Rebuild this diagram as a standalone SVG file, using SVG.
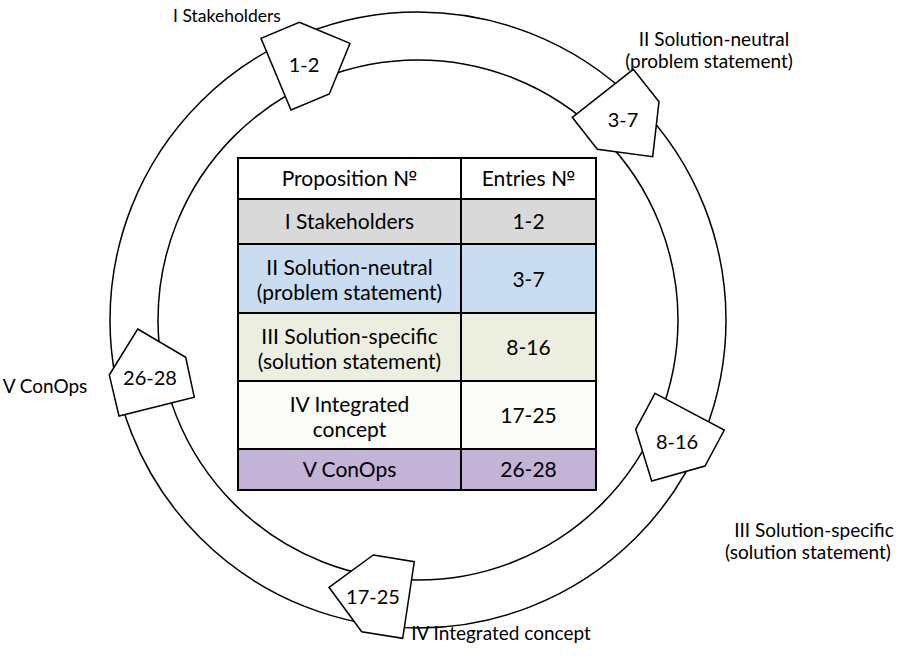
<svg xmlns="http://www.w3.org/2000/svg" width="911" height="658" viewBox="0 0 911 658">
<style>
  text { font-family: Lato, "Open Sans", "Liberation Sans", sans-serif; fill: #000; }
  .lbl { font-size: 19px; text-anchor: middle; }
  .cell { font-size: 21px; text-anchor: middle; }
  .num { font-size: 20px; text-anchor: middle; }
  .ring { fill: none; stroke: #000; stroke-width: 1.5; }
  .pent { fill: #fff; stroke: #000; stroke-width: 1.5; stroke-linejoin: miter; }
  .tb { stroke: #000; stroke-width: 2; }
</style>
<rect width="911" height="658" fill="#fff"/>

<g id="connectors">
  <circle class="ring" cx="418" cy="320" r="308"/>
  <circle class="ring" cx="418" cy="320" r="260"/>
</g>

<g id="node-stakeholders">
  <polygon class="pent" points="299.3,22.3 350,43.3 329.3,94 291,110 261,38.3"/>
  <text class="num" x="304" y="72">1-2</text>
  <text class="lbl" x="227" y="22" style="font-size:17.5px">I Stakeholders</text>
</g>

<g id="node-solution-neutral">
  <polygon class="pent" points="633.3,69.3 659,101.7 652.7,156.7 597.3,149.3 572.3,117.3"/>
  <text class="num" x="623" y="127">3-7</text>
  <text class="lbl" x="714" y="46">II Solution-neutral</text>
  <text class="lbl" x="709" y="68">(problem statement)</text>
</g>

<g id="node-solution-specific">
  <polygon class="pent" points="655,393.3 724.3,430 705,466 651.7,481 635.7,429.3"/>
  <text class="num" x="677" y="449">8-16</text>
  <text class="lbl" x="814" y="537">III Solution-specific</text>
  <text class="lbl" x="808" y="559">(solution statement)</text>
</g>

<g id="node-integrated-concept">
  <polygon class="pent" points="373.3,555 414.3,561.7 402.7,638.3 361.7,631.7 329,587.3"/>
  <text class="num" x="373" y="604">17-25</text>
  <text class="lbl" x="501" y="640">IV Integrated concept</text>
</g>

<g id="node-conops">
  <polygon class="pent" points="137.7,329 185.7,357.3 194.3,397.3 119,416 109.3,375"/>
  <text class="num" x="150" y="385">26-28</text>
  <text class="lbl" x="45" y="393">V ConOps</text>
</g>

<g id="table">
  <rect x="238" y="158" width="358" height="41" fill="#ffffff"/>
  <rect x="238" y="199" width="358" height="45" fill="#d9d9d9"/>
  <rect x="238" y="244" width="358" height="69" fill="#c9dcf0"/>
  <rect x="238" y="313" width="358" height="68" fill="#ecefe0"/>
  <rect x="238" y="381" width="358" height="68" fill="#fbfbf8"/>
  <rect x="238" y="449" width="358" height="41" fill="#c3b3d6"/>
  <g class="tb" fill="none">
    <rect x="238" y="158" width="358" height="332"/>
    <line x1="461" y1="158" x2="461" y2="490"/>
    <line x1="238" y1="199" x2="596" y2="199"/>
    <line x1="238" y1="244" x2="596" y2="244"/>
    <line x1="238" y1="313" x2="596" y2="313"/>
    <line x1="238" y1="381" x2="596" y2="381"/>
    <line x1="238" y1="449" x2="596" y2="449"/>
  </g>
  <text class="cell" x="349.5" y="186">Proposition №</text>
  <text class="cell" x="528.5" y="186">Entries №</text>
  <text class="cell" x="349.5" y="229">I Stakeholders</text>
  <text class="cell" x="528.5" y="229">1-2</text>
  <text class="cell" x="349.5" y="275">II Solution-neutral</text>
  <text class="cell" x="349.5" y="300">(problem statement)</text>
  <text class="cell" x="528.5" y="287">3-7</text>
  <text class="cell" x="349.5" y="343.5">III Solution-specific</text>
  <text class="cell" x="349.5" y="368.5">(solution statement)</text>
  <text class="cell" x="528.5" y="355">8-16</text>
  <text class="cell" x="349.5" y="411.5">IV Integrated</text>
  <text class="cell" x="349.5" y="436.5">concept</text>
  <text class="cell" x="528.5" y="423">17-25</text>
  <text class="cell" x="349.5" y="477">V ConOps</text>
  <text class="cell" x="528.5" y="477">26-28</text>
</g>
</svg>
